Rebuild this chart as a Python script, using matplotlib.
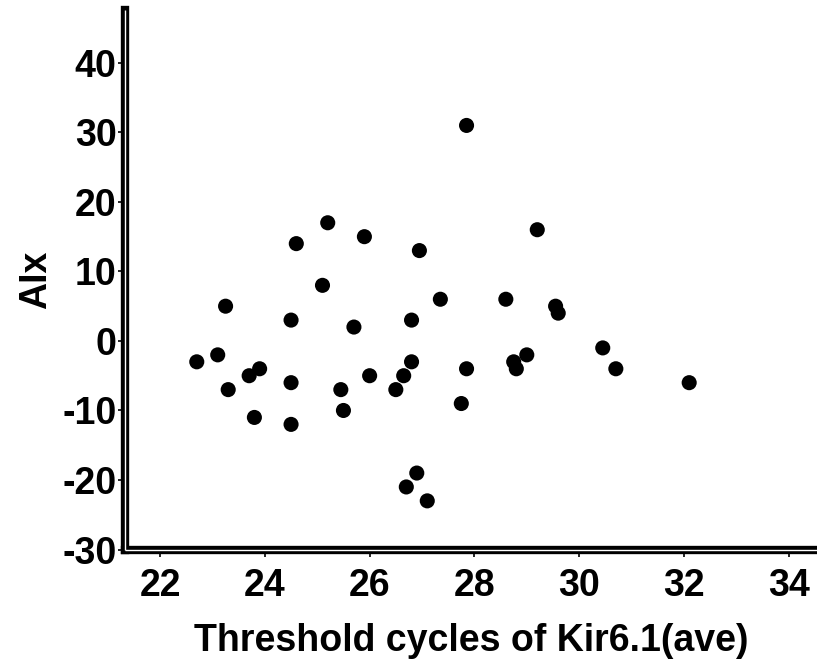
import matplotlib
matplotlib.use("Agg")
import matplotlib.pyplot as plt

plt.rcParams['font.family'] = ['Liberation Sans', 'DejaVu Sans']
plt.rcParams['font.weight'] = 'bold'
plt.rcParams['axes.unicode_minus'] = False

# Threshold cycles of Kir6.1 (ave) vs AIx
kir_ct = [25.2, 24.6, 25.9, 26.95, 25.1, 23.25, 27.35, 24.5, 25.7, 26.8,
          22.7, 23.1, 23.9, 23.7, 23.3, 24.5, 23.8, 24.5, 25.45, 26.0,
          25.5, 26.8, 26.65, 26.5, 27.85, 27.75, 26.9, 26.7, 27.1,
          27.85, 29.2, 28.6, 29.55, 29.6, 29.0, 28.75, 28.8, 30.45, 30.7, 32.1]
aix = [17, 14, 15, 13, 8, 5, 6, 3, 2, 3,
       -3, -2, -4, -5, -7, -6, -11, -12, -7, -5,
       -10, -3, -5, -7, -4, -9, -19, -21, -23,
       31, 16, 6, 5, 4, -2, -3, -4, -1, -4, -6]

xticks = [22, 24, 26, 28, 30, 32, 34]
yticks = [-30, -20, -10, 0, 10, 20, 30, 40]

fig = plt.figure(figsize=(8.17, 6.64), dpi=100)
ax = fig.add_axes([0.153, 0.1724, 0.847, 0.8125])

ax.scatter(kir_ct, aix, s=118, color='black', edgecolors='none', zorder=3)

ax.set_xlim(21.33, 34.54)
ax.set_ylim(-30, 47.6)
ax.set_xticks(xticks)
ax.set_yticks(yticks)

for side in ['top', 'right']:
    ax.spines[side].set_visible(False)
for side in ['left', 'bottom']:
    ax.spines[side].set_linewidth(6)
    ax.spines[side].set_color('black')
# white gap to get the double line look
ax.plot([0, 0], [0, 1], color='white', lw=1.0, transform=ax.transAxes,
        clip_on=False, zorder=5, solid_capstyle='butt')
ax.plot([0, 1], [0, 0], color='white', lw=1.0, transform=ax.transAxes,
        clip_on=False, zorder=5, solid_capstyle='butt')

ax.tick_params(axis='both', direction='out', length=5, width=1.2,
               labelsize=27, colors='black')
ax.tick_params(axis='y', pad=1)
ax.tick_params(axis='x', pad=8)

ax.set_xlabel('Threshold cycles of Kir6.1(ave)', fontsize=27,
              fontweight='bold', labelpad=14)
ax.set_ylabel('AIx', fontsize=27, fontweight='bold', labelpad=6)

fig.savefig('out.png', dpi=100)
